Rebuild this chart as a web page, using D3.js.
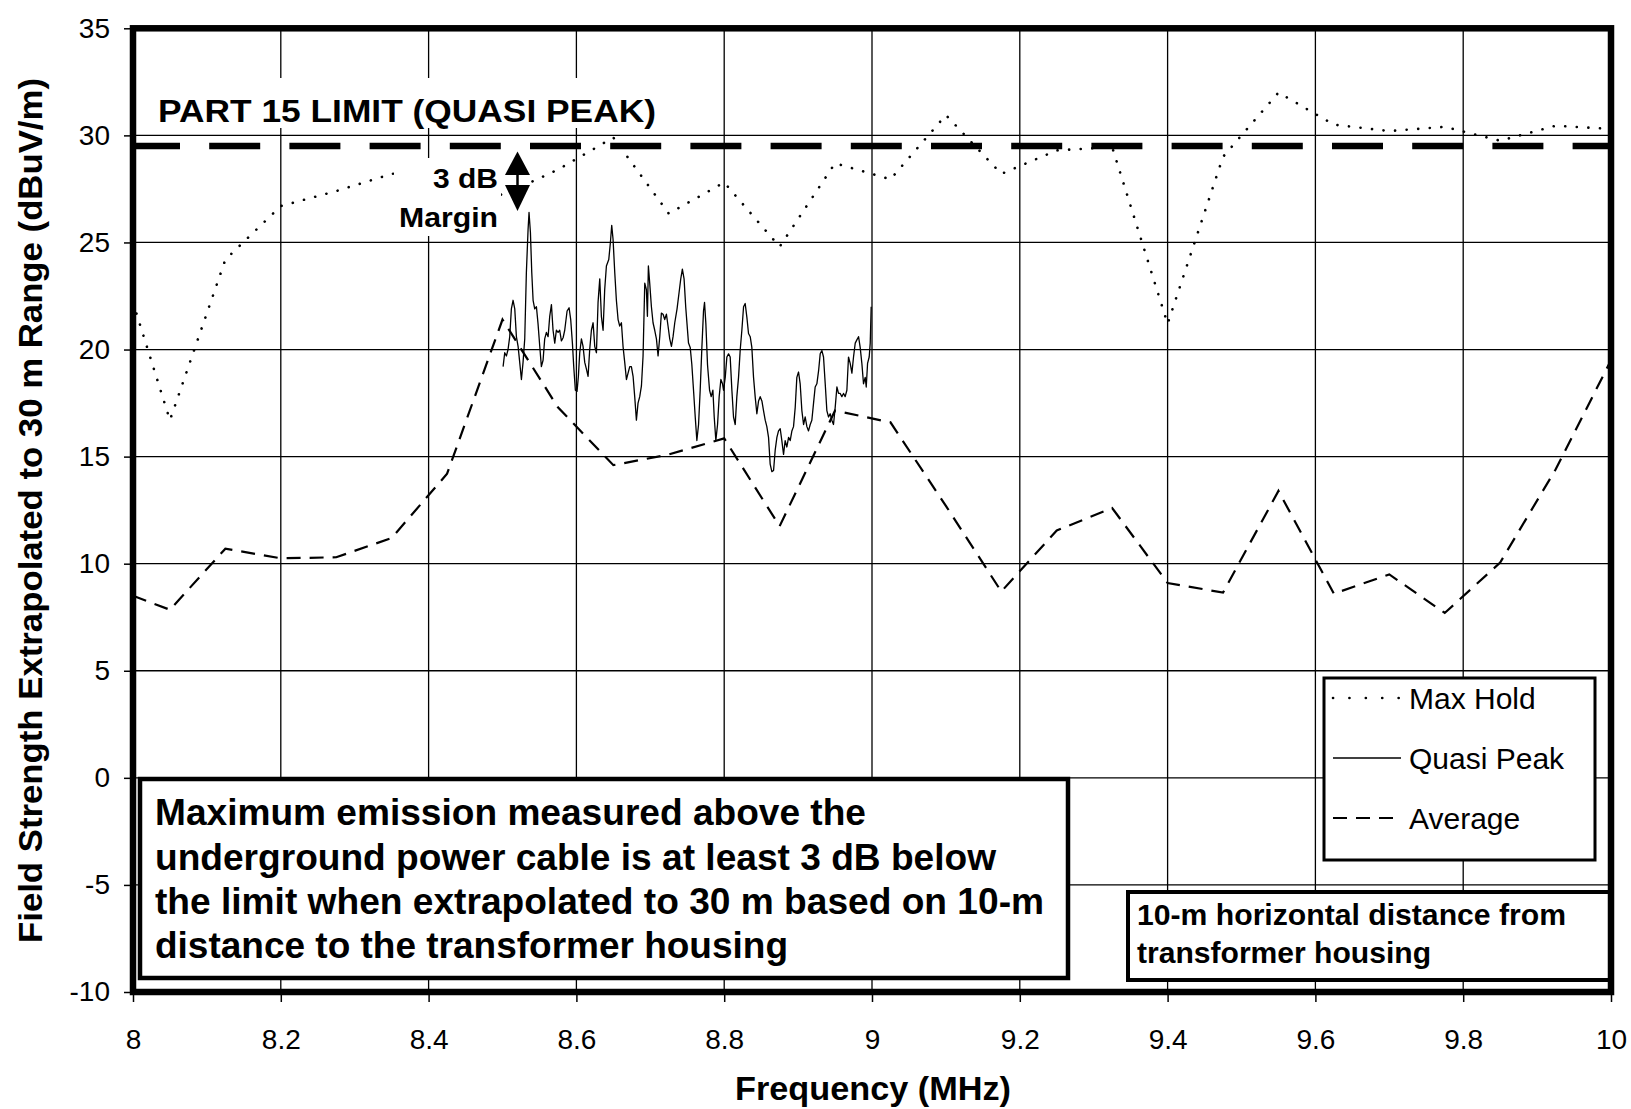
<!DOCTYPE html>
<html><head><meta charset="utf-8">
<script src="https://cdn.jsdelivr.net/npm/d3@7"></script>
<style>
html,body{margin:0;padding:0;background:#fff;}
svg{display:block;font-family:"Liberation Sans",Arial,Helvetica,sans-serif;}
</style></head><body>
<svg id="chart" width="1631" height="1109"></svg>
<script>
// ---------------- data ----------------
const xTicks = [8, 8.2, 8.4, 8.6, 8.8, 9, 9.2, 9.4, 9.6, 9.8, 10];
const yTicks = [-10, -5, 0, 5, 10, 15, 20, 25, 30, 35];
const limitLevel = 29.5;
const limitLabel = "PART 15 LIMIT (QUASI PEAK)";

const sweepFreq = [8.0, 8.05, 8.125, 8.2, 8.275, 8.35, 8.425, 8.5, 8.575, 8.65, 8.725, 8.8, 8.875, 8.95,
  9.025, 9.1, 9.175, 9.25, 9.325, 9.4, 9.475, 9.55, 9.625, 9.7, 9.775, 9.85, 9.925, 10.0];
const maxHold = [22.2, 16.7, 24.2, 26.7, 27.4, 28.2, 28.6, 27.2, 28.4, 29.9, 26.35, 27.8, 24.8, 28.7,
  27.95, 30.95, 28.2, 29.3, 29.45, 21.2, 29.0, 32.0, 30.5, 30.2, 30.4, 29.75, 30.45, 30.3];
const average = [8.5, 7.85, 10.7, 10.25, 10.3, 11.2, 14.2, 21.4, 17.3, 14.6, 15.1, 15.85, 11.75, 17.15,
  16.6, 12.7, 8.7, 11.55, 12.6, 9.1, 8.65, 13.4, 8.6, 9.5, 7.7, 10.05, 14.4, 19.5];

const qpFreq = [8.5008,8.5030,8.5053,8.5075,8.5098,8.5120,8.5143,8.5166,8.5188,8.5211,8.5233,8.5256,8.5278,8.5301,
  8.5323,8.5346,8.5359,8.5378,8.5396,8.5414,8.5436,8.5459,8.5481,8.5504,8.5526,8.5549,8.5571,8.5594,8.5617,8.5639,
  8.5662,8.5684,8.5707,8.5729,8.5752,8.5774,8.5797,8.5820,8.5842,8.5874,8.5901,8.5923,8.5946,8.5964,8.5986,8.6009,
  8.6027,8.6045,8.6068,8.6090,8.6113,8.6135,8.6158,8.6180,8.6203,8.6226,8.6248,8.6271,8.6293,8.6316,8.6338,8.6361,
  8.6383,8.6406,8.6438,8.6460,8.6478,8.6496,8.6519,8.6541,8.6564,8.6586,8.6609,8.6631,8.6654,8.6677,8.6699,8.6722,
  8.6744,8.6767,8.6789,8.6812,8.6834,8.6857,8.6880,8.6902,8.6925,8.6947,8.6961,8.6974,8.6992,8.7015,8.7037,8.7060,
  8.7083,8.7105,8.7128,8.7150,8.7173,8.7195,8.7218,8.7240,8.7263,8.7286,8.7308,8.7331,8.7362,8.7389,8.7412,8.7434,
  8.7457,8.7479,8.7517,8.7540,8.7562,8.7585,8.7608,8.7630,8.7653,8.7675,8.7698,8.7720,8.7734,8.7752,8.7774,8.7802,
  8.7824,8.7847,8.7865,8.7887,8.7910,8.7932,8.7955,8.7977,8.7991,8.8014,8.8036,8.8059,8.8081,8.8104,8.8126,8.8149,
  8.8171,8.8194,8.8217,8.8239,8.8262,8.8284,8.8307,8.8329,8.8352,8.8374,8.8397,8.8419,8.8442,8.8465,8.8487,8.8510,
  8.8532,8.8555,8.8577,8.8600,8.8622,8.8645,8.8668,8.8690,8.8713,8.8735,8.8758,8.8780,8.8803,8.8825,8.8848,8.8871,
  8.8893,8.8916,8.8938,8.8961,8.8983,8.9006,8.9028,8.9051,8.9074,8.9096,8.9119,8.9141,8.9164,8.9186,8.9209,8.9231,
  8.9254,8.9277,8.9299,8.9322,8.9344,8.9367,8.9389,8.9412,8.9434,8.9457,8.9479,8.9502,8.9525,8.9547,8.9570,8.9592,
  8.9615,8.9637,8.9660,8.9682,8.9705,8.9728,8.9750,8.9773,8.9795,8.9818,8.9840,8.9863,8.9885,8.9908,8.9922,8.9940,
  8.9962,8.9976,8.9989];
const qpLevel = [19.2,19.85,19.7,20.0,20.6,21.9,22.3,21.9,20.6,20.15,19.4,18.6,19.4,20.5,
  23.6,25.6,26.4,25.45,23.6,22.3,21.9,22.0,21.2,20.15,19.2,19.5,20.5,20.8,20.6,21.55,
  22.1,20.9,20.3,20.9,20.8,20.9,20.4,20.55,20.9,21.8,21.95,21.4,20.3,19.2,18.1,18.05,
  18.75,19.85,20.5,20.15,19.4,19.1,18.75,20.0,20.9,21.25,20.15,19.85,22.2,23.3,21.55,20.9,
  22.8,23.9,24.2,25.0,25.8,25.15,23.6,22.3,21.4,21.1,21.25,20.15,19.4,18.6,18.9,19.2,
  19.2,18.75,17.8,16.7,17.5,17.8,18.3,19.7,23.1,22.8,21.55,23.9,23.1,22.0,21.25,20.9,
  20.5,19.7,20.6,21.7,21.65,21.4,21.65,21.1,20.5,20.15,20.6,21.25,21.9,22.65,23.3,23.75,
  23.3,22.0,20.3,20.1,19.3,18.1,16.85,15.75,16.5,18.1,20.1,21.8,22.2,21.2,19.3,18.1,
  17.8,18.1,16.85,15.75,16.5,17.8,18.6,18.4,18.1,18.7,19.65,19.8,19.65,18.1,16.85,16.5,
  17.8,18.7,20.0,20.9,22.0,22.15,21.5,20.75,20.6,20.1,18.7,17.8,17.0,17.6,17.8,17.6,
  17.15,16.7,16.4,15.9,14.65,14.3,14.35,15.3,15.9,16.2,16.3,15.75,15.1,15.75,15.45,15.9,
  15.75,16.2,16.4,17.3,18.7,18.95,18.4,17.15,16.5,16.85,16.4,16.2,16.5,16.7,17.5,18.25,
  18.4,19.0,19.8,19.95,19.65,18.4,17.15,16.85,17.0,16.7,16.5,17.3,18.25,17.95,17.95,17.8,
  17.95,17.8,18.1,19.65,19.35,18.9,19.65,20.3,20.45,20.6,20.1,19.35,18.4,18.7,18.25,19.35,
  19.65,20.3,22.0];

const legendLabels = ["Max Hold", "Quasi Peak", "Average"];
const xTitle = "Frequency (MHz)";
const yTitle = "Field Strength Extrapolated to 30 m Range (dBuV/m)";
const marginLabel = ["3 dB", "Margin"];
const noteLines = ["Maximum emission measured above the",
  "underground power cable is at least 3 dB below",
  "the limit when extrapolated to 30 m based on 10-m",
  "distance to the transformer housing"];
const distLines = ["10-m horizontal distance from", "transformer housing"];

// ---------------- chart ----------------
const svg = d3.select("#chart");
const x = d3.scaleLinear().domain([8, 10]).range([133, 1611]);
const y = d3.scaleLinear().domain([-10, 35]).range([992, 28.3]);
const K = "#000";

svg.append("rect").attr("width", 1631).attr("height", 1109).attr("fill", "#fff");

// gridlines
const grid = svg.append("g");
grid.selectAll("line.gv").data(xTicks.slice(1, -1)).join("line").attr("class", "gv")
  .attr("x1", d => x(d)).attr("x2", d => x(d)).attr("y1", y(35)).attr("y2", y(-10))
  .attr("stroke", K).attr("stroke-width", 1.3);
grid.selectAll("line.gh").data(yTicks.slice(1, -1)).join("line").attr("class", "gh")
  .attr("x1", x(8)).attr("x2", x(10)).attr("y1", d => y(d)).attr("y2", d => y(d))
  .attr("stroke", K).attr("stroke-width", 1.3);

// axes
const yAxis = d3.axisLeft(y).tickValues(yTicks).tickSize(9).tickPadding(14).tickFormat(d => String(d));
const gy = svg.append("g").attr("transform", `translate(${x(8)},0)`).call(yAxis);
gy.select(".domain").remove();
gy.selectAll(".tick line").attr("stroke", K).attr("stroke-width", 1.5);
gy.selectAll(".tick text").attr("font-size", 28).attr("fill", K).attr("font-family", "Liberation Sans, Arial, sans-serif");

const xAxis = d3.axisBottom(x).tickValues(xTicks).tickSize(10).tickPadding(27).tickFormat(d => String(d));
const gx = svg.append("g").attr("transform", `translate(0,${y(-10)})`).call(xAxis);
gx.select(".domain").remove();
gx.selectAll(".tick line").attr("stroke", K).attr("stroke-width", 1.5);
gx.selectAll(".tick text").attr("font-size", 28).attr("fill", K).attr("font-family", "Liberation Sans, Arial, sans-serif");

// series
const line = d3.line().x(d => x(d[0])).y(d => y(d[1]));
svg.append("path").datum(d3.zip(sweepFreq, average)).attr("d", line)
  .attr("fill", "none").attr("stroke", K).attr("stroke-width", 2.2).attr("stroke-dasharray", "14,9");
svg.append("path").datum(d3.zip(sweepFreq, maxHold)).attr("d", line)
  .attr("fill", "none").attr("stroke", K).attr("stroke-width", 2.6)
  .attr("stroke-dasharray", "0.1,11.5").attr("stroke-linecap", "round");
svg.append("path").datum(d3.zip(qpFreq, qpLevel)).attr("d", line)
  .attr("fill", "none").attr("stroke", K).attr("stroke-width", 1.3).attr("stroke-linejoin", "round");

// limit line
svg.append("line").attr("x1", x(8)).attr("x2", x(10)).attr("y1", y(limitLevel)).attr("y2", y(limitLevel))
  .attr("stroke", K).attr("stroke-width", 6.5).attr("stroke-dasharray", "51,29.2").attr("stroke-dashoffset", 4);

// limit label (white text box)
svg.append("rect").attr("x", 150).attr("y", 78).attr("width", 520).attr("height", 50).attr("fill", "#fff");
svg.append("text").attr("x", 158).attr("y", 122).attr("font-size", 31).attr("font-weight", "bold")
  .attr("textLength", 498).attr("lengthAdjust", "spacingAndGlyphs").attr("fill", K).text(limitLabel);

// 3 dB margin label
svg.append("rect").attr("x", 394).attr("y", 158).attr("width", 107).attr("height", 78).attr("fill", "#fff");
svg.append("text").attr("x", 498).attr("y", 188).attr("text-anchor", "end").attr("font-size", 28)
  .attr("font-weight", "bold").attr("textLength", 65).attr("lengthAdjust", "spacingAndGlyphs")
  .attr("fill", K).text(marginLabel[0]);
svg.append("text").attr("x", 498).attr("y", 227).attr("text-anchor", "end").attr("font-size", 28)
  .attr("font-weight", "bold").attr("textLength", 99).attr("lengthAdjust", "spacingAndGlyphs")
  .attr("fill", K).text(marginLabel[1]);
// double arrow
const ax = 517.5;
svg.append("path").attr("d", `M${ax},151.5 L${ax - 12.5},175 L${ax + 12.5},175 Z`).attr("fill", K);
svg.append("path").attr("d", `M${ax},211 L${ax - 12.5},185 L${ax + 12.5},185 Z`).attr("fill", K);
svg.append("line").attr("x1", ax).attr("x2", ax).attr("y1", 174).attr("y2", 186).attr("stroke", K).attr("stroke-width", 2.5);

// legend
const lg = svg.append("g");
lg.append("rect").attr("x", 1324).attr("y", 678).attr("width", 271).attr("height", 182)
  .attr("fill", "#fff").attr("stroke", K).attr("stroke-width", 3);
const legY = [698, 758, 818];
const legStyles = [
  {w: 2.6, dash: "0.1,16.3", cap: "round"},
  {w: 1.3, dash: null, cap: "butt"},
  {w: 2.2, dash: "14,9", cap: "butt"}];
legendLabels.forEach((lab, i) => {
  const s = legStyles[i];
  const l = lg.append("line").attr("x1", 1333).attr("x2", 1401).attr("y1", legY[i]).attr("y2", legY[i])
    .attr("stroke", K).attr("stroke-width", s.w).attr("stroke-linecap", s.cap);
  if (s.dash) l.attr("stroke-dasharray", s.dash);
  lg.append("text").attr("x", 1409).attr("y", legY[i] + 10.5).attr("font-size", 30).attr("fill", K).text(lab);
});

// note box
const nb = svg.append("g");
nb.append("rect").attr("x", 140).attr("y", 779).attr("width", 928).attr("height", 199)
  .attr("fill", "#fff").attr("stroke", K).attr("stroke-width", 4.5);
const noteBase = [825, 870, 914, 958];
const noteLen = [711, 841, 889, 633];
noteLines.forEach((t, i) => {
  nb.append("text").attr("x", 155).attr("y", noteBase[i]).attr("font-size", 37).attr("font-weight", "bold")
    .attr("textLength", noteLen[i]).attr("lengthAdjust", "spacingAndGlyphs").attr("fill", K).text(t);
});

// distance box
const db = svg.append("g");
db.append("rect").attr("x", 1128).attr("y", 892).attr("width", 483).attr("height", 88)
  .attr("fill", "#fff").attr("stroke", K).attr("stroke-width", 4);
const distBase = [925, 963];
const distLen = [429, 294];
distLines.forEach((t, i) => {
  db.append("text").attr("x", 1137).attr("y", distBase[i]).attr("font-size", 29).attr("font-weight", "bold")
    .attr("textLength", distLen[i]).attr("lengthAdjust", "spacingAndGlyphs").attr("fill", K).text(t);
});

// frame
svg.append("rect").attr("x", x(8)).attr("y", y(35)).attr("width", x(10) - x(8)).attr("height", y(-10) - y(35))
  .attr("fill", "none").attr("stroke", K).attr("stroke-width", 6.5);

// axis titles
svg.append("text").attr("x", 873).attr("y", 1100).attr("text-anchor", "middle").attr("font-size", 33)
  .attr("font-weight", "bold").attr("textLength", 276).attr("lengthAdjust", "spacingAndGlyphs").attr("fill", K).text(xTitle);
svg.append("text").attr("transform", "translate(42,510.5) rotate(-90)").attr("text-anchor", "middle")
  .attr("font-size", 34).attr("font-weight", "bold").attr("textLength", 865).attr("lengthAdjust", "spacingAndGlyphs")
  .attr("fill", K).text(yTitle);
</script>
</body></html>
